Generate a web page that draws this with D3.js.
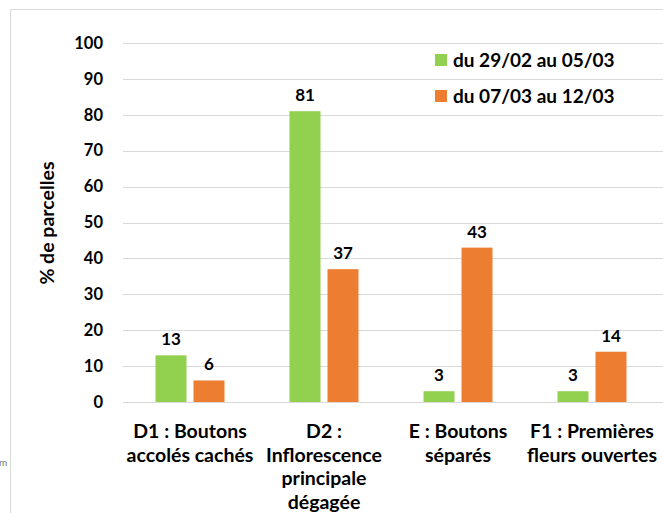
<!DOCTYPE html>
<html><head><meta charset="utf-8">
<script src="https://cdn.jsdelivr.net/npm/d3@7"></script>
<style>body{margin:0;background:#fff}svg{display:block}text{font-family:Lato,"Open Sans",sans-serif;font-weight:bold;fill:#000}</style>
</head><body><div id="chart"></div>
<script>
const categories = [
  ["D1 : Boutons","accolés cachés"],
  ["D2 :","Inflorescence","principale","dégagée"],
  ["E : Boutons","séparés"],
  ["F1 : Premières","fleurs ouvertes"]
];
const seriesNames = ["du 29/02 au 05/03","du 07/03 au 12/03"];
const series1 = [13, 81, 3, 3];
const series2 = [6, 37, 43, 14];
const yTicks = [0,10,20,30,40,50,60,70,80,90,100];
const colors = ["#92D050","#ED7D31"];

const W=663,H=513;
const svg=d3.select("#chart").append("svg").attr("width",W).attr("height",H);
// outer chart border
svg.append("path").attr("d","M10.5,"+H+"V9.5H"+W).attr("fill","none").attr("stroke","#d9d9d9");
svg.append("text").attr("x",-1).attr("y",466).style("font-size","10px").style("font-weight","normal").style("fill","#777").text("m");

const x0=d3.scaleBand().domain(d3.range(categories.length)).range([123,659]).paddingInner(0).paddingOuter(0);
const y=d3.scaleLinear().domain([0,100]).range([402,43]);

// gridlines
svg.append("g").selectAll("line").data(yTicks).join("line")
  .attr("x1",123).attr("x2",W).attr("y1",d=>Math.round(y(d))+0.5).attr("y2",d=>Math.round(y(d))+0.5)
  .attr("stroke","#d9d9d9").attr("stroke-width",1);
// y tick labels
const yAxis=d3.axisLeft(y).tickValues(yTicks).tickSize(0).tickPadding(20);
const ga=svg.append("g").attr("transform","translate(123,0)").call(yAxis);
ga.select(".domain").remove();
ga.selectAll("text").style("font-size","16.5px").style("font-family","Lato,sans-serif").style("font-weight","bold").attr("fill","#000");

svg.append("text").attr("transform","translate(54,223) rotate(-90)").attr("text-anchor","middle").style("font-size","19.5px").text("% de parcelles");

const bw=31, gap=7;
const data=[series1,series2];
data.forEach((s,si)=>{
  const g=svg.append("g");
  s.forEach((v,i)=>{
    const cx=x0(i)+x0.bandwidth()/2;
    const xl = si===0 ? cx-gap/2-bw : cx+gap/2;
    g.append("rect").attr("x",xl).attr("y",y(v)).attr("width",bw).attr("height",y(0)-y(v)).attr("fill",colors[si]);
    g.append("text").attr("x",xl+bw/2).attr("y",y(v)-10).attr("text-anchor","middle").style("font-size","17px").text(v);
  });
});
// x labels
categories.forEach((lines,i)=>{
  const cx=x0(i)+x0.bandwidth()/2;
  const t=svg.append("text").attr("text-anchor","middle").style("font-size","19.5px");
  lines.forEach((l,j)=>t.append("tspan").attr("x",cx).attr("y",438+j*23.7).text(l));
});
// legend
seriesNames.forEach((n,i)=>{
  const ly=60+i*36;
  svg.append("rect").attr("x",435).attr("y",ly-6).attr("width",12).attr("height",12).attr("fill",colors[i]);
  svg.append("text").attr("x",453).attr("y",ly+7).style("font-size","19px").text(n);
});
</script></body></html>
